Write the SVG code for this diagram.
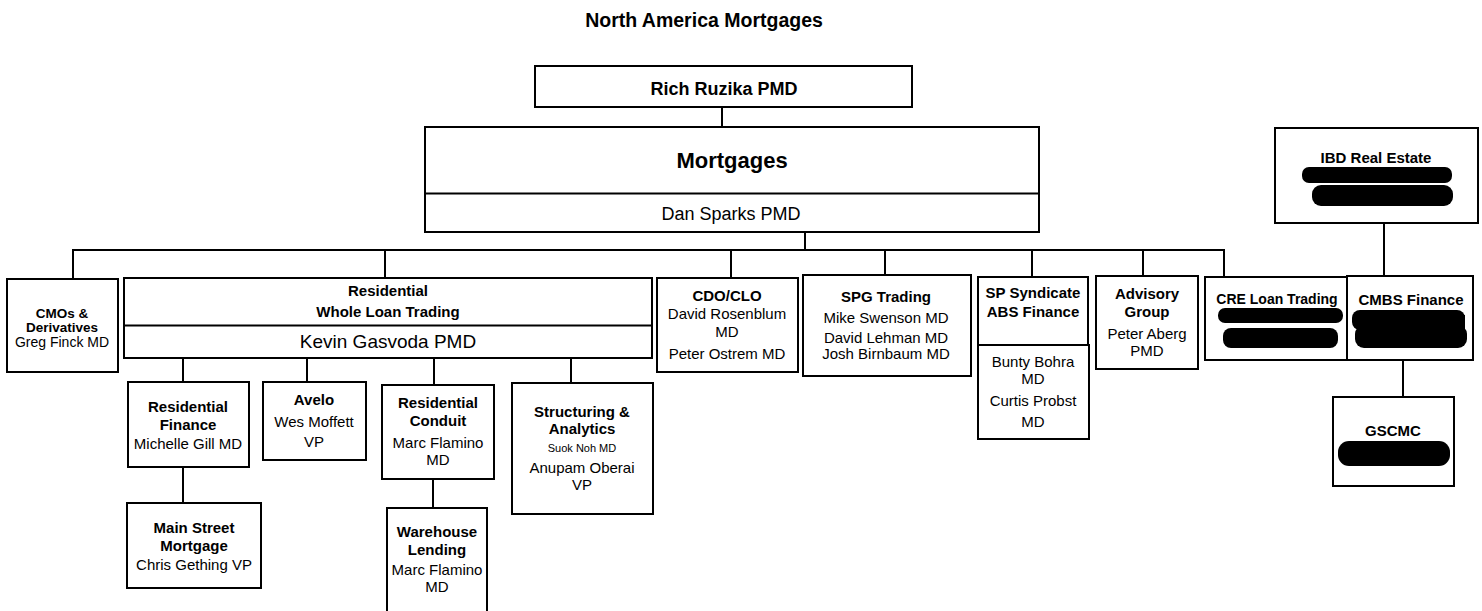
<svg xmlns="http://www.w3.org/2000/svg" width="1482" height="611" viewBox="0 0 1482 611">
  <style>
    text { font-family: "Liberation Sans", Arial, sans-serif; fill: #000; text-anchor: middle; }
    .title { font-size: 19.5px; font-weight: bold; }
    .h { font-size: 15px; font-weight: bold; }
    .t { font-size: 15px; }
    .s { font-size: 11px; }
    .box { fill: #fff; stroke: #000; stroke-width: 2; }
    .line { fill: none; stroke: #000; stroke-width: 2; }
    .ink { fill: #000; }
  </style>
  <rect width="1482" height="611" fill="#fff"/>

  <text class="title" x="704" y="27">North America Mortgages</text>

  <!-- connectors -->
  <g id="connectors" class="line">
    <path d="M722 107 V127"/>
    <path d="M805 232 V250"/>
    <path d="M73 279 V250 H1224 V277"/>
    <path d="M385 250 V278"/>
    <path d="M731 250 V278"/>
    <path d="M885 250 V275"/>
    <path d="M1032 250 V277"/>
    <path d="M1143 250 V276"/>
    <path d="M183 358 V382"/>
    <path d="M307 358 V382"/>
    <path d="M434 358 V385"/>
    <path d="M571 358 V383"/>
    <path d="M183 467 V503"/>
    <path d="M433 479 V508"/>
    <path d="M1384 223 V276"/>
    <path d="M1403 360 V397"/>
  </g>

  <g id="rich-ruzika">
    <rect class="box" x="535" y="66" width="377" height="41"/>
    <text class="h" x="724" y="95" style="font-size:18px">Rich Ruzika PMD</text>
  </g>

  <g id="mortgages">
    <rect class="box" x="425" y="127" width="614" height="105"/>
    <path class="line" d="M425 193.5 H1039"/>
    <text class="h" x="732" y="168" style="font-size:22px">Mortgages</text>
    <text class="t" x="731" y="220" style="font-size:18px">Dan Sparks PMD</text>
  </g>

  <g id="cmos">
    <rect class="box" x="7" y="279" width="111" height="93"/>
    <text class="h" x="62" y="318" style="font-size:13.5px">CMOs &amp;</text>
    <text class="h" x="62" y="332" style="font-size:13.5px">Derivatives</text>
    <text class="t" x="62" y="347" style="font-size:14px">Greg Finck MD</text>
  </g>

  <g id="residential-whole-loan">
    <rect class="box" x="124" y="278" width="528" height="80"/>
    <path class="line" d="M124 325.5 H652"/>
    <text class="h" x="388" y="296">Residential</text>
    <text class="h" x="388" y="317">Whole Loan Trading</text>
    <text class="t" x="388" y="348" style="font-size:19px">Kevin Gasvoda PMD</text>
  </g>

  <g id="cdo-clo">
    <rect class="box" x="657" y="278" width="141" height="94"/>
    <text class="h" x="727" y="301">CDO/CLO</text>
    <text class="t" x="727" y="319">David Rosenblum</text>
    <text class="t" x="727" y="337">MD</text>
    <text class="t" x="727" y="359">Peter Ostrem MD</text>
  </g>

  <g id="spg-trading">
    <rect class="box" x="803" y="275" width="168" height="101"/>
    <text class="h" x="886" y="302">SPG Trading</text>
    <text class="t" x="886" y="323">Mike Swenson MD</text>
    <text class="t" x="886" y="343">David Lehman MD</text>
    <text class="t" x="886" y="359">Josh Birnbaum MD</text>
  </g>

  <g id="sp-syndicate">
    <rect class="box" x="978" y="277" width="110" height="68"/>
    <rect class="box" x="978" y="345" width="111" height="94"/>
    <text class="h" x="1033" y="298">SP Syndicate</text>
    <text class="h" x="1033" y="317">ABS Finance</text>
    <text class="t" x="1033" y="367">Bunty Bohra</text>
    <text class="t" x="1033" y="384">MD</text>
    <text class="t" x="1033" y="406">Curtis Probst</text>
    <text class="t" x="1033" y="427">MD</text>
  </g>

  <g id="advisory-group">
    <rect class="box" x="1096" y="276" width="102" height="93"/>
    <text class="h" x="1147" y="299">Advisory</text>
    <text class="h" x="1147" y="317">Group</text>
    <text class="t" x="1147" y="339">Peter Aberg</text>
    <text class="t" x="1147" y="356">PMD</text>
  </g>

  <g id="cre-loan-trading">
    <rect class="box" x="1205" y="277" width="142" height="83"/>
    <text class="h" x="1277" y="304" style="font-size:14px">CRE Loan Trading</text>
    <rect class="ink" x="1218" y="308" width="125" height="15" rx="7"/>
    <rect class="ink" x="1223" y="328" width="115" height="20" rx="8"/>
  </g>

  <g id="cmbs-finance">
    <rect class="box" x="1347" y="276" width="126" height="84"/>
    <text class="h" x="1411" y="305">CMBS Finance</text>
    <rect class="ink" x="1352" y="310" width="113" height="20" rx="8"/>
    <rect class="ink" x="1355" y="325" width="112" height="23" rx="9"/>
    <rect class="ink" x="1410" y="315" width="55" height="20"/>
  </g>

  <g id="ibd-real-estate">
    <rect class="box" x="1275" y="128" width="203" height="95"/>
    <text class="h" x="1376" y="163">IBD Real Estate</text>
    <rect class="ink" x="1302" y="167" width="150" height="16" rx="7"/>
    <rect class="ink" x="1312" y="185" width="141" height="21" rx="9"/>
  </g>

  <g id="gscmc">
    <rect class="box" x="1333" y="397" width="121" height="89"/>
    <text class="h" x="1393" y="436">GSCMC</text>
    <rect class="ink" x="1338" y="441" width="112" height="25" rx="11"/>
  </g>

  <g id="residential-finance">
    <rect class="box" x="128" y="382" width="121" height="85"/>
    <text class="h" x="188" y="412">Residential</text>
    <text class="h" x="188" y="430">Finance</text>
    <text class="t" x="188" y="449">Michelle Gill MD</text>
  </g>

  <g id="main-street-mortgage">
    <rect class="box" x="127" y="503" width="134" height="85"/>
    <text class="h" x="194" y="533">Main Street</text>
    <text class="h" x="194" y="551">Mortgage</text>
    <text class="t" x="194" y="570">Chris Gething VP</text>
  </g>

  <g id="avelo">
    <rect class="box" x="263" y="382" width="103" height="78"/>
    <text class="h" x="314" y="405">Avelo</text>
    <text class="t" x="314" y="427">Wes Moffett</text>
    <text class="t" x="314" y="447">VP</text>
  </g>

  <g id="residential-conduit">
    <rect class="box" x="382" y="385" width="112" height="94"/>
    <text class="h" x="438" y="408">Residential</text>
    <text class="h" x="438" y="426">Conduit</text>
    <text class="t" x="438" y="448">Marc Flamino</text>
    <text class="t" x="438" y="465">MD</text>
  </g>

  <g id="warehouse-lending">
    <rect class="box" x="387" y="508" width="100" height="110"/>
    <text class="h" x="437" y="537">Warehouse</text>
    <text class="h" x="437" y="555">Lending</text>
    <text class="t" x="437" y="575">Marc Flamino</text>
    <text class="t" x="437" y="592">MD</text>
  </g>

  <g id="structuring-analytics">
    <rect class="box" x="512" y="383" width="141" height="131"/>
    <text class="h" x="582" y="417">Structuring &amp;</text>
    <text class="h" x="582" y="434">Analytics</text>
    <text class="s" x="582" y="452">Suok Noh MD</text>
    <text class="t" x="582" y="473">Anupam Oberai</text>
    <text class="t" x="582" y="490">VP</text>
  </g>
</svg>
